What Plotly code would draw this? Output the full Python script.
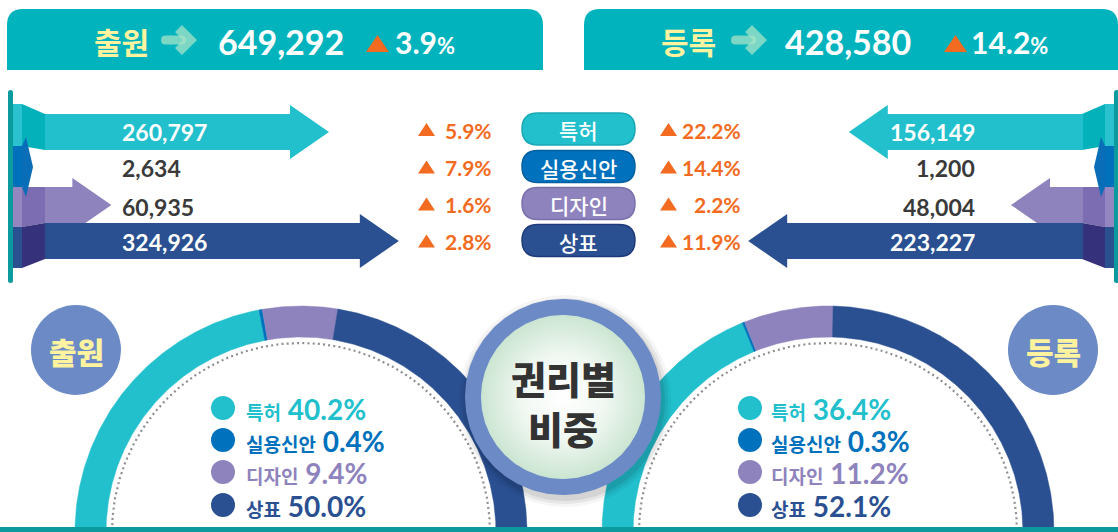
import numpy as np
import plotly.graph_objects as go

# ---------------- data ----------------
CATEGORIES = ["특허", "실용신안", "디자인", "상표"]
APPL_LABEL = "출원"
REG_LABEL = "등록"
APPL_TOTAL = 649292
APPL_TOTAL_GROWTH = 3.9
REG_TOTAL = 428580
REG_TOTAL_GROWTH = 14.2
APPL_VALUES = [260797, 2634, 60935, 324926]
REG_VALUES = [156149, 1200, 48004, 223227]
APPL_GROWTH = [5.9, 7.9, 1.6, 2.8]
REG_GROWTH = [22.2, 14.4, 2.2, 11.9]
APPL_SHARE = [40.2, 0.4, 9.4, 50.0]
REG_SHARE = [36.4, 0.3, 11.2, 52.1]
CENTER_TITLE = ["권리별", "비중"]

# ---------------- style ----------------
W, H = 1118, 532
COLORS = ["#22BFCD", "#0071BC", "#8E83BD", "#2A5092"]
COL_LIGHT = ["#2BC1CE", "#0070BA", "#9386C1", "#2B5090"]
DARK = ["#03B1BB", "#0A6DB8", "#7C6CB2", "#35317B"]
PILL_BORDER = ["#17A8B4", "#005FA0", "#7A6FAD", "#1E3A78"]
HEADER = "#00B3BD"
STRIPE = "#0B9A9D"
ORANGE = "#F26B21"
BADGE = "#6B8AC6"
YELLOW = "#FFF3A0"
DARKTEXT = "#3A3A3A"
NUM_FONT = "Lato, Noto Sans CJK KR, sans-serif"
KR_FONT = "Noto Sans CJK KR, sans-serif"

ARROW_Y = [132, 167, 205, 241]
LABEL_Y = [132, 168, 207, 242]
LABEL_COLORS = ["white", DARKTEXT, DARKTEXT, "white"]
PILL_Y = [129, 166.5, 203.5, 240.5]
LEG_Y = [408, 440, 472, 505]
BODY_HALF, HEAD_HALF, HEAD_PX = 18, 27, 39
LEFT_BASE_PX, RIGHT_BASE_PX = 45, 1083
LEFT_UNITS_PER_PX, RIGHT_UNITS_PER_PX = 918.3, 666.7

fig = go.Figure()
shapes = []
ann = []


def A(x, y, text, size, color, xanchor="center", family=NUM_FONT, yanchor="middle", weight=None):
    font = dict(family=family, size=size, color=color)
    if weight:
        font["weight"] = weight
    ann.append(dict(x=x, y=y, xref="x", yref="y", text=text, showarrow=False,
                    xanchor=xanchor, yanchor=yanchor, font=font))


def poly(pts, color, layer="below"):
    p = "M" + " L".join(f"{x},{y}" for x, y in pts) + " Z"
    shapes.append(dict(type="path", path=p, fillcolor=color, line_width=0,
                       layer=layer, xref="x", yref="y"))


def rrect(x0, y0, x1, y1, r, color, line=None, layer="below", top_only=False):
    if top_only:
        p = (f"M{x0},{y1} L{x0},{y0+r} Q{x0},{y0} {x0+r},{y0} L{x1-r},{y0} "
             f"Q{x1},{y0} {x1},{y0+r} L{x1},{y1} Z")
    else:
        p = (f"M{x0+r},{y0} L{x1-r},{y0} Q{x1},{y0} {x1},{y0+r} L{x1},{y1-r} "
             f"Q{x1},{y1} {x1-r},{y1} L{x0+r},{y1} Q{x0},{y1} {x0},{y1-r} "
             f"L{x0},{y0+r} Q{x0},{y0} {x0+r},{y0} Z")
    shapes.append(dict(type="path", path=p, fillcolor=color, layer=layer,
                       line=dict(width=1.5 if line else 0, color=line or color),
                       xref="x", yref="y"))


# ---------------- header boxes ----------------
rrect(7, 9, 543, 70, 16, HEADER, top_only=True)
rrect(584, 9, 1118, 70, 16, HEADER, top_only=True)


def header_icon(dx):
    rrect(161 + dx, 35.5, 186 + dx, 44.5, 4.5, "rgba(165,228,200,0.75)", layer="above")
    poly([(175 + dx, 32), (182 + dx, 25), (197 + dx, 40), (182 + dx, 55),
          (175 + dx, 48), (183 + dx, 40)], "rgba(165,228,200,0.75)", layer="above")


header_icon(0)
header_icon(570)
A(121, 41, f"<b>{APPL_LABEL}</b>", 30, YELLOW, family=KR_FONT)
A(216, 41, f"<b>{APPL_TOTAL:,}</b>", 34, "white", xanchor="left")
poly([(366, 52), (377.5, 35), (389, 52)], ORANGE, layer="above")
A(393, 42, f"<b>{APPL_TOTAL_GROWTH}<span style='font-size:22px'>%</span></b>", 30, "white", xanchor="left")
A(688, 41, f"<b>{REG_LABEL}</b>", 30, YELLOW, family=KR_FONT)
A(783, 41, f"<b>{REG_TOTAL:,}</b>", 34, "white", xanchor="left")
poly([(944, 52), (955.5, 35), (967, 52)], ORANGE, layer="above")
A(969, 42, f"<b>{REG_TOTAL_GROWTH}<span style='font-size:22px'>%</span></b>", 30, "white", xanchor="left")

# ---------------- side columns (decoration) ----------------
COL_Y = [(104, 146), (146, 187), (187, 227), (227, 268)]


def side(mirror):
    f = (lambda x: 1127 - x) if mirror else (lambda x: x)
    xs = sorted([f(8), f(13)])
    rrect(xs[0], 90, xs[1], 283, 2.5, STRIPE)
    for i, (a, b) in enumerate(COL_Y):
        poly([(f(13), a), (f(22), a), (f(22), b), (f(13), b)], COL_LIGHT[i])
    poly([(f(22), 104), (f(45), 114), (f(45), 150), (f(22), 146)], DARK[0])
    poly([(f(22), 187), (f(45), 187), (f(45), 223), (f(22), 227)], DARK[2])
    poly([(f(22), 227), (f(45), 223), (f(45), 259), (f(22), 268)], DARK[3])
    poly([(f(22), 146), (f(26), 137), (f(33), 167), (f(26), 197), (f(22), 187)], DARK[1])


side(False)
side(True)

# ---------------- arrows (value axes) ----------------


def arrows(values, axis, units_per_px):
    head_u = HEAD_PX * units_per_px
    for i, v in enumerate(values):
        if v / units_per_px < HEAD_PX + 6:
            continue
        c = ARROW_Y[i]
        ub = v - head_u
        xs = [0, ub, ub, v, ub, ub, 0, 0]
        ys = [c - BODY_HALF, c - BODY_HALF, c - HEAD_HALF, c, c + HEAD_HALF,
              c + BODY_HALF, c + BODY_HALF, c - BODY_HALF]
        fig.add_trace(go.Scatter(x=xs, y=ys, xaxis=axis, yaxis="y", mode="lines",
                                 fill="toself", fillcolor=COLORS[i],
                                 line=dict(width=0, color=COLORS[i]),
                                 hoverinfo="skip", showlegend=False))


arrows(APPL_VALUES, "x2", LEFT_UNITS_PER_PX)
arrows(REG_VALUES, "x3", RIGHT_UNITS_PER_PX)

for i in range(4):
    A(120, LABEL_Y[i], f"<b>{APPL_VALUES[i]:,}</b>", 23, LABEL_COLORS[i], xanchor="left")
    A(977, LABEL_Y[i], f"<b>{REG_VALUES[i]:,}</b>", 23, LABEL_COLORS[i], xanchor="right")

# ---------------- middle pills and growth ----------------
for i, cat in enumerate(CATEGORIES):
    c = PILL_Y[i]
    rrect(522, c - 16, 635, c + 16, 16, COLORS[i], line=PILL_BORDER[i])
    A(578.5, c + 1, cat, 21, "white", family=KR_FONT, weight=500)
    poly([(418, c + 7), (426.5, c - 6), (435, c + 7)], ORANGE, layer="above")
    A(494, c + 1, f"<b>{APPL_GROWTH[i]}%</b>", 21, ORANGE, xanchor="right")
    poly([(660, c + 7), (668.5, c - 6), (677, c + 7)], ORANGE, layer="above")
    A(743, c + 1, f"<b>{REG_GROWTH[i]}%</b>", 21, ORANGE, xanchor="right")

# ---------------- donuts ----------------
DEG_PER_PCT = 2.05


def ring_pts(cx, cy, r_out, r_in, a0, a1):
    t = np.radians(np.linspace(a0, a1, max(8, int(abs(a1 - a0) * 3))))
    xo = cx + r_out * np.sin(t)
    yo = cy - r_out * np.cos(t)
    xi = cx + r_in * np.sin(t[::-1])
    yi = cy - r_in * np.cos(t[::-1])
    return np.r_[xo, xi, xo[:1]], np.r_[yo, yi, yo[:1]]


def donut(shares, cx, cy, start):
    a = start
    for i, s in enumerate(shares):
        b = a + s * DEG_PER_PCT
        xs, ys = ring_pts(cx, cy, 226, 195, a, b)
        fig.add_trace(go.Scatter(x=xs, y=ys, mode="lines", fill="toself",
                                 fillcolor=COLORS[i], line=dict(width=0.5, color=COLORS[i]),
                                 hoverinfo="skip", showlegend=False))
        a = b
    t = np.radians(np.linspace(-110, 110, 400))
    fig.add_trace(go.Scatter(x=cx + 189 * np.sin(t), y=cy - 189 * np.cos(t), mode="lines",
                             line=dict(color="#8E8E8E", width=2.2, dash="2px,3.2px"),
                             hoverinfo="skip", showlegend=False))


donut(APPL_SHARE, 301, 532, -93.1)
donut(REG_SHARE, 828, 532, -96.9)

# legends inside donuts
for i, cat in enumerate(CATEGORIES):
    for (dx, tx, shares) in [(223, 244, APPL_SHARE), (750, 769, REG_SHARE)]:
        shapes.append(dict(type="circle", x0=dx - 12, x1=dx + 12, y0=LEG_Y[i] - 12,
                           y1=LEG_Y[i] + 12, fillcolor=COLORS[i], line_width=0,
                           xref="x", yref="y", layer="above"))
        A(tx, LEG_Y[i] + 1,
          f"<b><span style='font-size:19px'>{cat}</span> {shares[i]:.1f}%</b>",
          28, COLORS[i], xanchor="left")

# ---------------- central circle ----------------
CX, CY = 563, 397
for r, al in [(106, 0.04), (103, 0.06), (100, 0.08)]:
    t = np.linspace(0, 2 * np.pi, 200)
    fig.add_trace(go.Scatter(x=CX + 2 + r * np.cos(t), y=CY + 4 + r * np.sin(t), mode="lines",
                             fill="toself", fillcolor=f"rgba(0,0,0,{al})", line=dict(width=0),
                             hoverinfo="skip", showlegend=False))
t = np.linspace(0, 2 * np.pi, 240)
fig.add_trace(go.Scatter(x=CX + 98 * np.cos(t), y=CY + 98 * np.sin(t), mode="lines",
                         fill="toself", fillcolor=BADGE, line=dict(width=0),
                         hoverinfo="skip", showlegend=False))
fig.add_trace(go.Scatter(x=CX + 82 * np.cos(t), y=CY + 82 * np.sin(t), mode="lines",
                         fill="toself",
                         fillgradient=dict(type="radial",
                                           colorscale=[[0, "#FFFFFF"], [0.5, "#F1F8F2"], [1, "#CBE5D2"]]),
                         line=dict(width=0), hoverinfo="skip", showlegend=False))
A(CX, 377, CENTER_TITLE[0], 38, "#333333", family=KR_FONT, weight=900)
A(CX, 427, CENTER_TITLE[1], 38, "#333333", family=KR_FONT, weight=900)

# badges
for (bx, label) in [(76, APPL_LABEL), (1053, REG_LABEL)]:
    shapes.append(dict(type="circle", x0=bx - 45, x1=bx + 45, y0=350 - 45, y1=350 + 45,
                       fillcolor=BADGE, line_width=0, xref="x", yref="y", layer="below"))
    A(bx, 351, label, 30, YELLOW, family=KR_FONT, weight=900)

# bottom strip
shapes.append(dict(type="rect", x0=0, x1=W, y0=527, y1=533, fillcolor=STRIPE,
                   line_width=0, xref="x", yref="y", layer="above"))

fig.update_layout(
    width=W, height=H, margin=dict(l=0, r=0, t=0, b=0),
    paper_bgcolor="white", plot_bgcolor="white",
    xaxis=dict(range=[0, W], visible=False, fixedrange=True),
    xaxis2=dict(range=[-LEFT_BASE_PX * LEFT_UNITS_PER_PX, (W - LEFT_BASE_PX) * LEFT_UNITS_PER_PX],
                overlaying="x", anchor="y", visible=False),
    xaxis3=dict(range=[RIGHT_BASE_PX * RIGHT_UNITS_PER_PX, -(W - RIGHT_BASE_PX) * RIGHT_UNITS_PER_PX],
                overlaying="x", anchor="y", visible=False),
    yaxis=dict(range=[H, 0], visible=False, fixedrange=True),
    shapes=shapes, annotations=ann, showlegend=False,
)
fig.write_html("out.html", config={"displayModeBar": False},
               post_script="document.body.style.margin='0';document.body.style.overflow='hidden';")
